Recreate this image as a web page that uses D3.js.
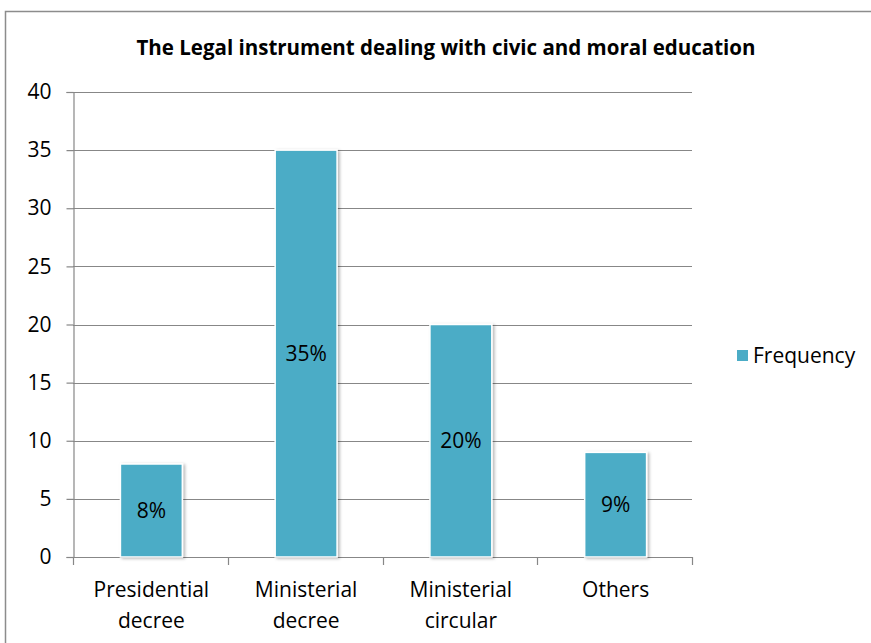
<!DOCTYPE html>
<html>
<head>
<meta charset="utf-8">
<script src="https://cdn.jsdelivr.net/npm/d3@7"></script>
<style>
  html, body { margin: 0; padding: 0; background: #fff; }
  svg { display: block; }
  text { font-family: "Open Sans", "Noto Sans", sans-serif; fill: #000; }
</style>
</head>
<body>
<svg id="chart" width="871" height="643"></svg>
<script>
// Chart data
const categories = [["Presidential", "decree"], ["Ministerial", "decree"], ["Ministerial", "circular"], ["Others"]];
const frequency = [8, 35, 20, 9];
const valueLabels = ["8%", "35%", "20%", "9%"];
const yTicks = [0, 5, 10, 15, 20, 25, 30, 35, 40];
const seriesName = "Frequency";
const title = "The Legal instrument dealing with civic and moral education";

const svg = d3.select("#chart");
const barColor = "#4BACC6";
const gridColor = "#878787";
const fontFamily = "'Open Sans', 'Noto Sans', sans-serif";

// Outer chart frame
svg.append("rect")
  .attr("x", 5.5).attr("y", 11.5)
  .attr("width", 900).attr("height", 700)
  .attr("fill", "none").attr("stroke", "#8c8c8c").attr("stroke-width", 1.5);

// Soft shadow for bars
const defs = svg.append("defs");
const f = defs.append("filter").attr("id", "shadow")
  .attr("x", "-20%").attr("y", "-10%").attr("width", "140%").attr("height", "130%");
f.append("feDropShadow").attr("dx", 2).attr("dy", 1).attr("stdDeviation", 1.5)
  .attr("flood-color", "#000").attr("flood-opacity", 0.28);

const plot = { left: 73, right: 692, top: 92, bottom: 557 };

const x = d3.scaleBand()
  .domain(d3.range(categories.length))
  .range([plot.left, plot.right])
  .padding(0);

const y = d3.scaleLinear()
  .domain([0, 40])
  .range([plot.bottom, plot.top]);

// Title
svg.append("text")
  .attr("x", 446).attr("y", 55)
  .attr("text-anchor", "middle")
  .attr("font-size", "20.5px").attr("font-weight", "bold")
  .text(title);

// Horizontal gridlines
svg.append("g")
  .selectAll("line")
  .data(yTicks.filter(t => t > 0))
  .join("line")
  .attr("x1", plot.left).attr("x2", plot.right)
  .attr("y1", d => Math.round(y(d)) + 0.5).attr("y2", d => Math.round(y(d)) + 0.5)
  .attr("stroke", gridColor).attr("stroke-width", 1.2);

// Y axis
const yAxis = svg.append("g")
  .attr("transform", `translate(${plot.left + 0.5},0)`)
  .call(d3.axisLeft(y).tickValues(yTicks).tickSize(7).tickPadding(15).tickFormat(d3.format("d")));
yAxis.select(".domain").attr("stroke", gridColor).attr("stroke-width", 1.2);
yAxis.selectAll(".tick line").attr("stroke", gridColor).attr("stroke-width", 1.2);
yAxis.selectAll(".tick text")
  .attr("font-size", "21px")
  .attr("font-family", fontFamily)
  .attr("fill", "#000");

// X axis with ticks at category boundaries
const xAxisG = svg.append("g");
xAxisG.append("line")
  .attr("x1", plot.left).attr("x2", plot.right)
  .attr("y1", plot.bottom + 0.5).attr("y2", plot.bottom + 0.5)
  .attr("stroke", gridColor).attr("stroke-width", 1.2);
const boundaries = d3.range(categories.length + 1).map(i =>
  i < categories.length ? x(i) : x(i - 1) + x.bandwidth());
xAxisG.selectAll("line.tick")
  .data(boundaries)
  .join("line")
  .attr("class", "tick")
  .attr("x1", d => Math.round(d) + 0.5).attr("x2", d => Math.round(d) + 0.5)
  .attr("y1", plot.bottom).attr("y2", plot.bottom + 8)
  .attr("stroke", gridColor).attr("stroke-width", 1.2);

// Category labels (multi-line)
const catLabels = svg.append("g").selectAll("text")
  .data(categories)
  .join("text")
  .attr("x", (d, i) => x(i) + x.bandwidth() / 2 + 1)
  .attr("y", 597)
  .attr("text-anchor", "middle")
  .attr("font-size", "21px");
catLabels.selectAll("tspan")
  .data(d => d)
  .join("tspan")
  .attr("x", function () { return d3.select(this.parentNode).attr("x"); })
  .attr("dy", (d, i) => i === 0 ? 0 : 31)
  .text(d => d);

// Bars
const barW = x.bandwidth() * 0.4;
svg.append("g")
  .selectAll("rect")
  .data(frequency)
  .join("rect")
  .attr("x", (d, i) => x(i) + (x.bandwidth() - barW) / 2 + 1)
  .attr("y", d => y(d))
  .attr("width", barW)
  .attr("height", d => y(0) - y(d))
  .attr("fill", barColor)
  .attr("stroke", "#fff").attr("stroke-width", 1.5)
  .attr("filter", "url(#shadow)");

// Value labels inside bars
svg.append("g")
  .selectAll("text")
  .data(frequency)
  .join("text")
  .attr("x", (d, i) => x(i) + x.bandwidth() / 2 + 1)
  .attr("y", d => y(d / 2))
  .attr("dy", "0.35em")
  .attr("text-anchor", "middle")
  .attr("font-size", "21px")
  .text((d, i) => valueLabels[i]);

// Legend
const legend = svg.append("g").attr("transform", "translate(737,350)");
legend.append("rect")
  .attr("width", 11).attr("height", 11)
  .attr("fill", barColor);
legend.append("text")
  .attr("x", 16).attr("y", 6)
  .attr("dy", "0.35em")
  .attr("font-size", "21px")
  .text(seriesName);
</script>
</body>
</html>
